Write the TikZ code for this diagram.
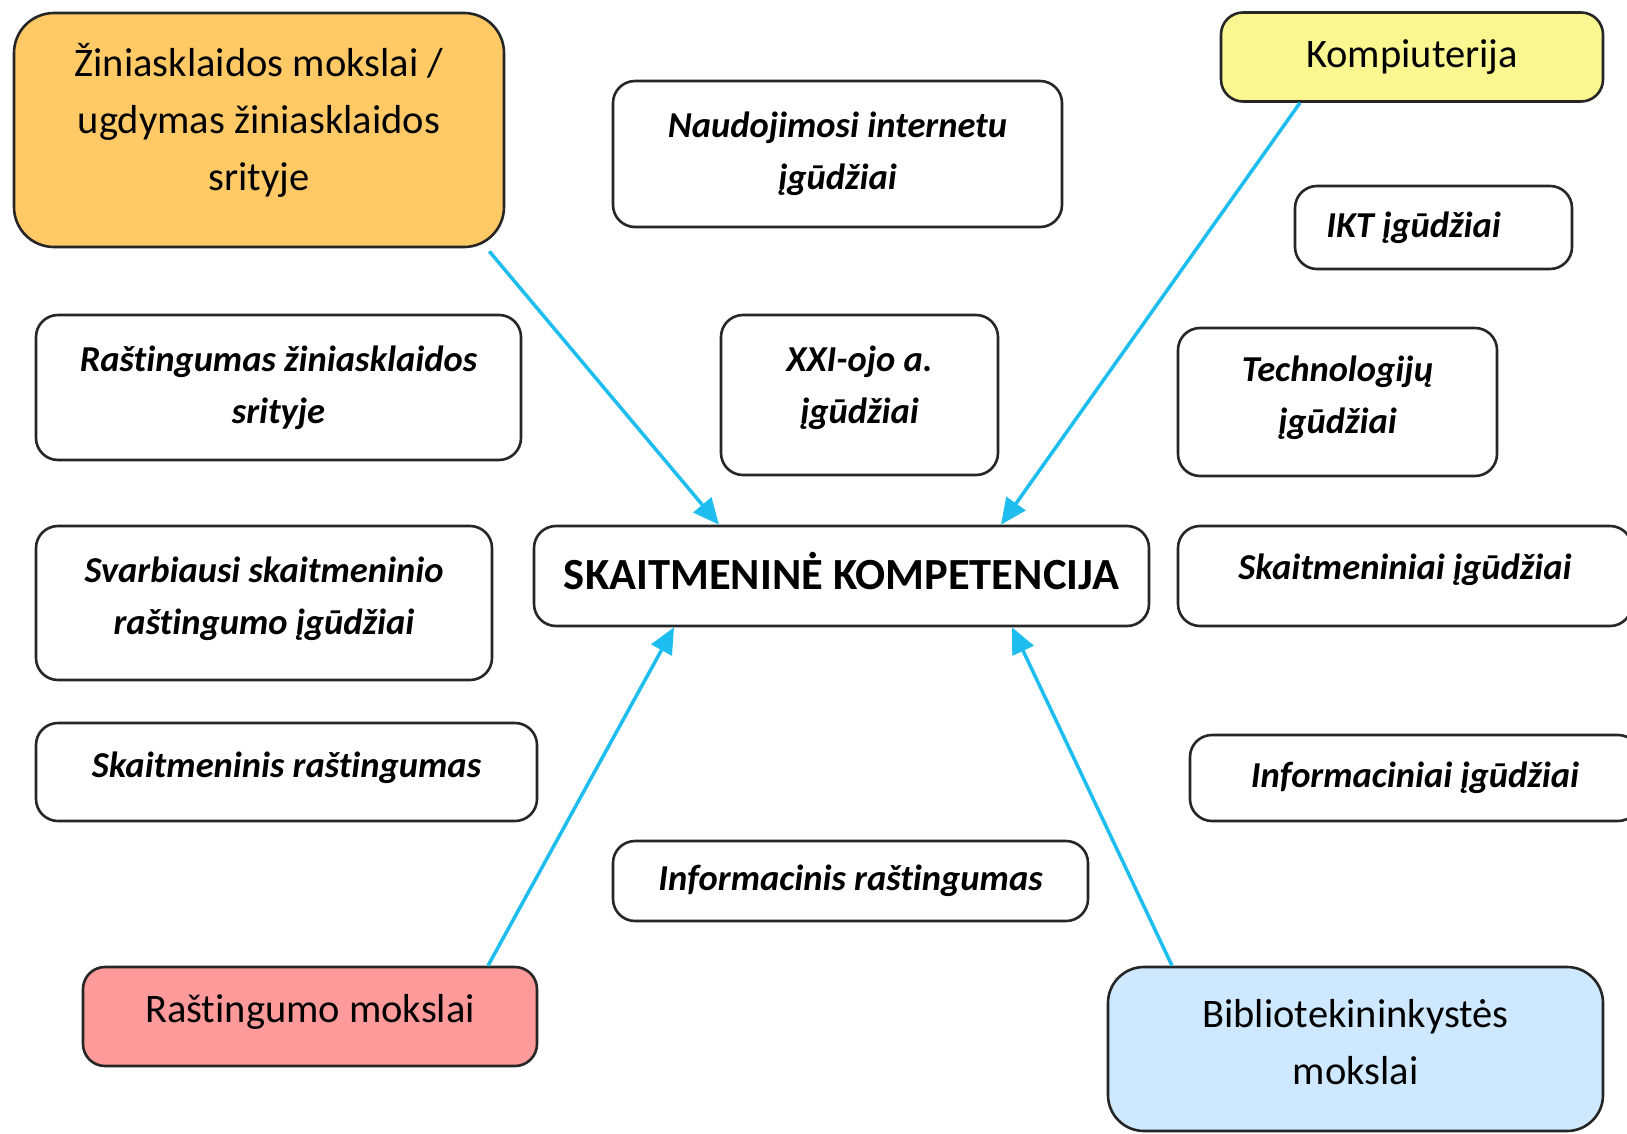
\documentclass[tikz,border=0pt]{standalone}
\usepackage{fontspec}
\setmainfont{Carlito}[Ligatures={NoCommon,NoContextual}, RawFeature={-liga;-clig;-dlig}]
\usepackage{xcolor}
\usepackage{tikz}
\usetikzlibrary{arrows.meta}
\definecolor{fieldorange}{HTML}{FFC966}
\definecolor{fieldyellow}{HTML}{FAF690}
\definecolor{fieldred}{HTML}{FF9A9A}
\definecolor{fieldblue}{HTML}{CDE8FF}
\definecolor{linkblue}{HTML}{1DBDF0}
\newcommand\fieldfont{\fontsize{40.5}{57}\selectfont}
\newcommand\skillfont{\fontsize{36.5}{52}\selectfont\bfseries\itshape}
\newcommand\corefont{\fontsize{44.5}{52}\selectfont\bfseries}

\begin{document}
\begin{tikzpicture}[x=1pt, y=-1pt,
  skill/.style={draw=black!85, line width=2.6pt, rounded corners=22pt, fill=white,
    inner sep=0pt, align=center, font=\skillfont},
  field/.style={skill, rounded corners=30pt, font=\fieldfont},
  link/.style={draw=linkblue, line width=3.5pt, -{Triangle[length=26pt, width=23pt]}}]
  \useasboundingbox (0,0) rectangle (1627,1134);
  \clip (0,0) rectangle (1627,1134);
  \node[field, fill=fieldorange, minimum width=490pt, minimum height=234pt, rounded corners=40pt, text depth=27pt] (media) at (259,130) {Žiniasklaidos mokslai /\\ugdymas žiniasklaidos\\srityje};
  \node[field, fill=fieldyellow, minimum width=382pt, minimum height=89pt, rounded corners=22pt] (comp) at (1412,57) {Kompiuterija};
  \node[field, fill=fieldred, minimum width=454pt, minimum height=99pt, rounded corners=22pt, text depth=16pt] (litsci) at (310,1016.5) {Raštingumo mokslai};
  \node[field, fill=fieldblue, minimum width=495pt, minimum height=164pt, rounded corners=36pt, text depth=15pt] (libsci) at (1355.5,1049) {Bibliotekininkystės\\mokslai};

  \node[skill, minimum width=615pt, minimum height=100pt, font=\corefont, text depth=10pt] (core) at (841.5,576) {SKAITMENINĖ KOMPETENCIJA};

  \node[skill, minimum width=449pt, minimum height=146pt] (internet) at (837.5,154) {Naudojimosi internetu\\įgūdžiai};
  \node[skill, minimum width=277pt, minimum height=83pt] (ict) at (1433.5,227.5) {IKT įgūdžiai\kern40pt};
  \node[skill, minimum width=485pt, minimum height=145pt] (medialit) at (278.5,387.5) {Raštingumas žiniasklaidos\\srityje};
  \node[skill, minimum width=277pt, minimum height=160pt, text depth=20pt] (century) at (859.5,395) {XXI-ojo a.\\įgūdžiai};
  \node[skill, minimum width=319pt, minimum height=148pt, text depth=14pt] (tech) at (1337.5,402) {Technologijų\\įgūdžiai};
  \node[skill, minimum width=454pt, minimum height=100pt, text depth=18pt] (digskill) at (1405,576) {Skaitmeniniai įgūdžiai};
  \node[skill, minimum width=456pt, minimum height=154pt, text depth=14pt] (keydig) at (264,603) {Svarbiausi skaitmeninio\\raštingumo įgūdžiai};
  \node[skill, minimum width=501pt, minimum height=98pt, text depth=14pt] (diglit) at (286.5,772) {Skaitmeninis raštingumas};
  \node[skill, minimum width=450pt, minimum height=86pt] (infskill) at (1415,778) {Informaciniai įgūdžiai};
  \node[skill, minimum width=475pt, minimum height=80pt] (inflit) at (850.5,881) {Informacinis raštingumas};

  \draw[link] ([xshift=-16pt, yshift=-3pt]media.south east) -- ([xshift=-122.5pt]core.north);
  \draw[link] ([xshift=-112pt]comp.south) -- ([xshift=159.5pt]core.north);
  \draw[link] ([xshift=178pt]litsci.north) -- ([xshift=-167.5pt]core.south);
  \draw[link] ([xshift=-183.5pt]libsci.north) -- ([xshift=170.5pt]core.south);
\end{tikzpicture}
\end{document}
